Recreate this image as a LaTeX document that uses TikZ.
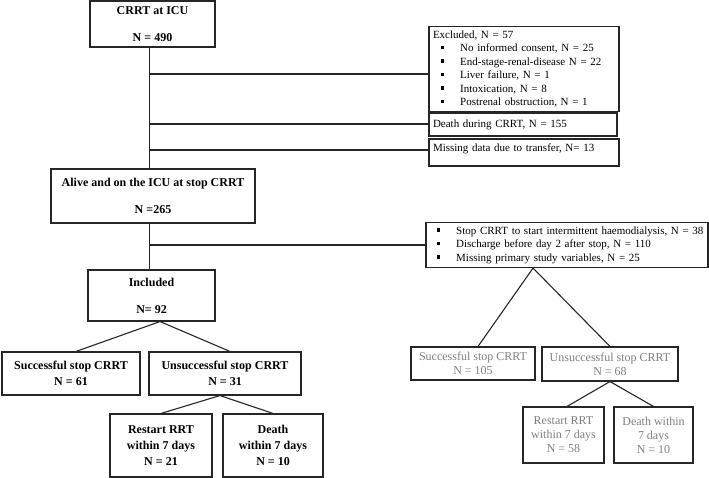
\documentclass[tikz,border=0pt]{standalone}
\usepackage{fontspec}
\setmainfont{Liberation Serif}
\usetikzlibrary{calc}
\definecolor{darkline}{rgb}{0.15,0.15,0.15}
\newcommand{\sqitem}[2][8pt]{\hspace*{#1}\rule[2.6pt]{3.2pt}{3.2pt}\hspace*{16pt}#2}
\tikzset{
  flowbox/.style={draw=darkline,line width=1.1pt,inner sep=4pt,align=center},
  boldbox/.style={flowbox,font=\fontsize{12}{16}\selectfont\bfseries},
  greybox/.style={flowbox,text opacity=0.5,inner ysep=3pt,font=\fontsize{12}{14}\selectfont},
  listbox/.style={flowbox,align=left,font=\fontsize{11}{13.5}\selectfont},
  link/.style={draw=darkline,line width=1.1pt}
}

\begin{document}
\begin{tikzpicture}[x=1pt,y=-1pt]
      \useasboundingbox (0,0) rectangle (709,478);

      %% main cohort
      \node[boldbox,minimum width=125,minimum height=46] (crrt) at (152.5,24) {CRRT at ICU\\[11pt]N = 490};
      \node[boldbox,minimum width=204,minimum height=54] (alive) at (153,196) {Alive and on the ICU at stop CRRT\\[11pt]N =265};
      \node[boldbox,minimum width=127,minimum height=51] (incl) at (151.5,295.5) {Included\\[11pt]N= 92};

      %% exclusions
      \node[listbox,text width=182,minimum height=84] (excl) at (524,69) {Excluded, N = 57\\
        \sqitem{No informed consent, N = 25}\\
        \sqitem{End-stage-renal-disease N = 22}\\
        \sqitem{Liver failure, N = 1}\\
        \sqitem{Intoxication, N = 8}\\
        \sqitem{Postrenal obstruction, N = 1}};
      \node[listbox,text width=180,minimum height=23] (death) at (523,124.5) {Death during CRRT, N = 155};
      \node[listbox,text width=182,minimum height=27,inner ysep=3pt,text height=9.5pt,text depth=11.5pt] (miss) at (524,152.5) {Missing data due to transfer, N= 13};
      \node[listbox,text width=274,minimum height=38] (stopex) at (567,245) {\sqitem[7pt]{Stop CRRT to start intermittent haemodialysis, N = 38}\\
        \sqitem[7pt]{Discharge before day 2 after stop, N = 110}\\
        \sqitem[7pt]{Missing primary study variables, N = 25}};

      %% included outcomes
      \node[boldbox,minimum width=138,minimum height=43] (succ) at (71,373.5) {Successful stop CRRT\\N = 61};
      \node[boldbox,minimum width=152,minimum height=43] (unsucc) at (225,373.5) {Unsuccessful stop CRRT\\N = 31};
      \node[boldbox,minimum width=102,minimum height=63] (restart) at (161,445.5) {Restart RRT\\within 7 days\\N = 21};
      \node[boldbox,minimum width=100,minimum height=63] (death7) at (273,445.5) {Death\\within 7 days\\N = 10};

      %% excluded outcomes
      \node[greybox,minimum width=124,minimum height=33] (gsucc) at (473,363.5) {Successful stop CRRT\\N = 105};
      \node[greybox,minimum width=136,minimum height=34] (gunsucc) at (610,364) {Unsuccessful stop CRRT\\N = 68};
      \node[greybox,minimum width=81,minimum height=56] (grestart) at (563.5,435) {Restart RRT\\within 7 days\\N = 58};
      \node[greybox,minimum width=79,minimum height=56] (gdeath) at (653.5,435) {Death within\\7 days\\N = 10};

      %% trunk and branches
      \coordinate (trunk1) at (149.5,74);
      \coordinate (trunk2) at (149.5,124);
      \coordinate (trunk3) at (149.5,150);
      \coordinate (trunk4) at (149.5,245);
      \draw[link] (crrt.south -| trunk1) -- (alive.north -| trunk1);
      \draw[link] (alive.south -| trunk1) -- (incl.north -| trunk1);
      \draw[link] (trunk1) -- (trunk1 -| excl.west);
      \draw[link] (trunk2) -- (trunk2 -| death.west);
      \draw[link] (trunk3) -- (trunk3 -| miss.west);
      \draw[link] (trunk4) -- (trunk4 -| stopex.west);

      \draw[link] ($(incl.south)+(8.5,0)$) -- ($(succ.north)+(5,0)$);
      \draw[link] ($(incl.south)+(8.5,0)$) -- ($(unsucc.north)+(5,0)$);
      \draw[link] ($(unsucc.south)+(-5,0)$) -- (restart.north);
      \draw[link] ($(unsucc.south)+(-5,0)$) -- (death7.north);

      \coordinate (stopapex) at ($(stopex.south west)!0.38!(stopex.south east)$);
      \draw[link] (stopapex) -- ($(gsucc.north)+(5,0)$);
      \draw[link] (stopapex) -- (gunsucc.north);
      \draw[link] (gunsucc.south) -- ($(grestart.north)+(3.5,0)$);
      \draw[link] (gunsucc.south) -- (gdeath.north);
    \end{tikzpicture}
\end{document}
